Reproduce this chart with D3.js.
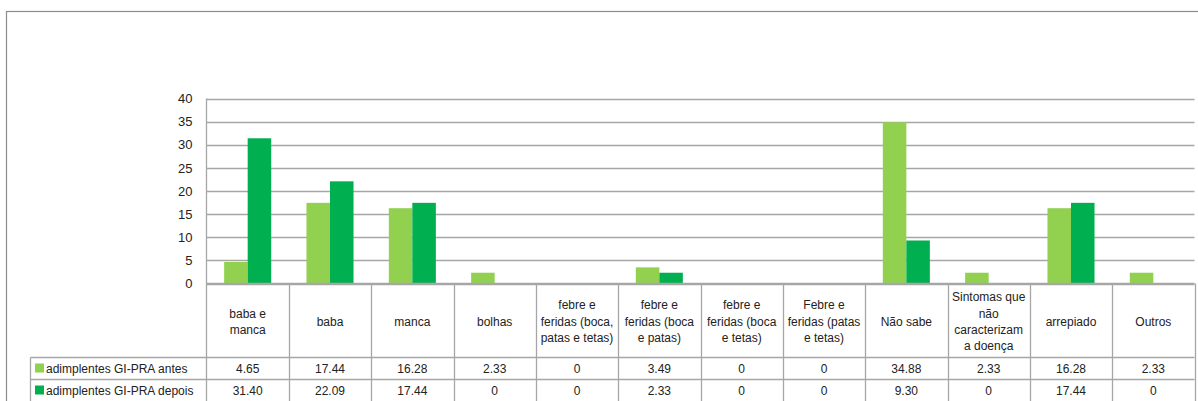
<!DOCTYPE html>
<html>
<head>
<meta charset="utf-8">
<script src="https://cdn.jsdelivr.net/npm/d3@7/dist/d3.min.js"></script>
<style>
  html, body { margin: 0; padding: 0; background: #fff; }
  svg { display: block; font-family: "Liberation Sans", Arial, sans-serif; }
</style>
</head>
<body>
<svg id="chart" width="1198" height="401"></svg>
<script>
const categories = [
  "baba e\nmanca", "baba", "manca", "bolhas",
  "febre e\nferidas (boca,\npatas e tetas)",
  "febre e\nferidas (boca\ne patas)",
  "febre e\nferidas (boca\ne tetas)",
  "Febre e\nferidas (patas\ne tetas)",
  "Não sabe",
  "Sintomas que\nnão\ncaracterizam\na doença",
  "arrepiado", "Outros"
];
const seriesNames = ["adimplentes GI-PRA antes", "adimplentes GI-PRA depois"];
const antes = [4.65, 17.44, 16.28, 2.33, 0, 3.49, 0, 0, 34.88, 2.33, 16.28, 2.33];
const depois = [31.40, 22.09, 17.44, 0, 0, 2.33, 0, 0, 9.30, 0, 17.44, 0];
const yTicks = [0, 5, 10, 15, 20, 25, 30, 35, 40];
const colors = ["#92D050", "#00B050"];

const svg = d3.select("#chart");
const W = 1198, H = 401;
const plot = { left: 206.5, right: 1194.5, top: 98.5, bottom: 283.5 };
const headerBottom = 357.5, row1Bottom = 379.5, row2Bottom = 401.5, legendLeft = 30.5;
const gridColor = "#a6a6a6";

// outer border
svg.append("rect").attr("x", 6.5).attr("y", 11.5).attr("width", 1300).attr("height", 500)
  .attr("fill", "none").attr("stroke", "#8c8c8c").attr("stroke-width", 1.2);

const x0 = d3.scaleBand().domain(d3.range(categories.length))
  .range([plot.left, plot.right]).paddingInner(0).paddingOuter(0);
const x1 = d3.scaleBand().domain([0, 1]).range([0, x0.bandwidth()])
  .paddingInner(0).paddingOuter(0.75);
const y = d3.scaleLinear().domain([0, 40]).range([plot.bottom, plot.top]);

// gridlines
svg.append("g").selectAll("line").data(yTicks).join("line")
  .attr("x1", plot.left).attr("x2", plot.right)
  .attr("y1", d => Math.round(y(d)) + 0.5).attr("y2", d => Math.round(y(d)) + 0.5)
  .attr("stroke", gridColor).attr("stroke-width", 1.3);

// y axis labels
const yAxis = d3.axisLeft(y).tickValues(yTicks).tickSize(0).tickPadding(14);
const ga = svg.append("g").attr("transform", `translate(${plot.left},0)`).call(yAxis);
ga.select(".domain").remove();
ga.selectAll("text").attr("font-size", 13).attr("fill", "#222")
  .attr("font-family", "'Liberation Sans', Arial, sans-serif");

// bars
const series = [antes, depois];
const gBars = svg.append("g");
series.forEach((vals, si) => {
  gBars.selectAll(null).data(vals).join("rect")
    .attr("x", (d, i) => x0(i) + x1(si))
    .attr("width", x1.bandwidth())
    .attr("y", d => y(d))
    .attr("height", d => y(0) - y(d))
    .attr("fill", colors[si]);
});

// table lines
const tl = svg.append("g").attr("stroke", gridColor).attr("stroke-width", 1.3);
// zero line
tl.append("line").attr("x1", plot.left).attr("x2", plot.right).attr("y1", plot.bottom).attr("y2", plot.bottom);
// left axis line
tl.append("line").attr("x1", plot.left).attr("x2", plot.left).attr("y1", plot.top).attr("y2", row2Bottom);
// vertical separators
const bounds = d3.range(categories.length + 1).map(i => i < categories.length ? x0(i) : plot.right);
tl.selectAll(null).data(bounds.slice(1)).join("line")
  .attr("x1", d => Math.round(d) + 0.5).attr("x2", d => Math.round(d) + 0.5)
  .attr("y1", plot.bottom).attr("y2", row2Bottom);
// row separators
[headerBottom, row1Bottom].forEach(yy => {
  tl.append("line").attr("x1", legendLeft).attr("x2", plot.right).attr("y1", yy).attr("y2", yy);
});
tl.append("line").attr("x1", legendLeft).attr("x2", legendLeft).attr("y1", headerBottom).attr("y2", row2Bottom);

// header text
const lh = 16.3;
const headerCenter = (plot.bottom + headerBottom) / 2 + 1;
const gh = svg.append("g").attr("font-size", 12).attr("fill", "#222").attr("text-anchor", "middle");
categories.forEach((c, i) => {
  const lines = c.split("\n");
  const cx = x0(i) + x0.bandwidth() / 2;
  lines.forEach((ln, k) => {
    gh.append("text").attr("x", cx)
      .attr("y", headerCenter + (k - (lines.length - 1) / 2) * lh)
      .attr("dy", "0.35em").text(ln);
  });
});

// rows
const fmt = v => v === 0 ? "0" : v.toFixed(2);
const rowMids = [(headerBottom + row1Bottom) / 2, (row1Bottom + row2Bottom) / 2];
series.forEach((vals, si) => {
  const g = svg.append("g").attr("font-size", 12).attr("fill", "#222");
  g.append("rect").attr("x", 35).attr("y", rowMids[si] - 5).attr("width", 9).attr("height", 9)
    .attr("fill", colors[si]);
  g.append("text").attr("x", 46).attr("y", rowMids[si]).attr("dy", "0.35em").text(seriesNames[si]);
  g.selectAll(null).data(vals).join("text")
    .attr("x", (d, i) => x0(i) + x0.bandwidth() / 2)
    .attr("y", rowMids[si]).attr("dy", "0.35em").attr("text-anchor", "middle")
    .text(d => fmt(d));
});
</script>
</body>
</html>
